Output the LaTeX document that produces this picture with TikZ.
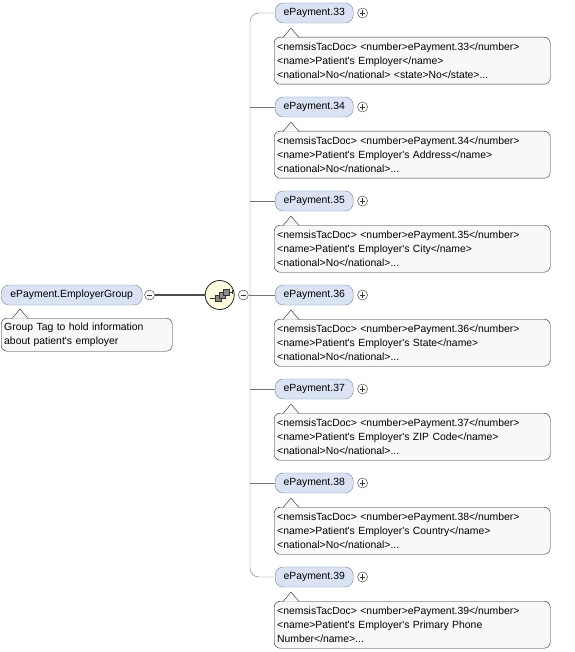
\documentclass[tikz,border=0pt]{standalone}
\usepackage{fontspec}
\setmainfont{Liberation Sans}
\usepackage{xcolor}
\usetikzlibrary{positioning}
\definecolor{elemfill}{HTML}{D9E3F4}
\definecolor{elemdraw}{HTML}{76869C}
\definecolor{docfill}{HTML}{F8F8F8}
\definecolor{seqfill}{HTML}{FFFBDF}

\begin{document}
\begin{tikzpicture}[x=1pt, y=-1pt,
    font=\fontsize{10.4}{14}\selectfont,
    elem/.style={draw=elemdraw, fill=elemfill, rounded corners=8pt, minimum height=20pt, inner xsep=4pt, inner ysep=0pt, anchor=west},
    doc/.style={draw=black!85, fill=docfill, rounded corners=6pt, align=left, inner xsep=3pt, inner ysep=2pt, anchor=north west},
    pointer/.style={fill=docfill, draw=black!85},
    toggle/.style={circle, draw=black!80, fill=white, minimum size=10pt, inner sep=0pt},
    minus/.style={toggle, path picture={\draw[line width=0.6pt] ([xshift=-2.6pt]path picture bounding box.center) -- ([xshift=2.6pt]path picture bounding box.center);}},
    plus/.style={toggle, path picture={\draw[line width=0.6pt] ([xshift=-2.6pt]path picture bounding box.center) -- ([xshift=2.6pt]path picture bounding box.center) ([yshift=-2.6pt]path picture bounding box.center) -- ([yshift=2.6pt]path picture bounding box.center);}},
    link/.style={draw=black!55},
]
    \useasboundingbox (0,0) rectangle (574,652);

    % group element and its sequence
    \node[elem, minimum width=141pt] (grp) at (1,295) {ePayment.EmployerGroup};
    \node[minus, right=2pt of grp] (gm) {};
    \node[doc, text width=165pt, minimum height=33pt] (gd) at (1,318) {Group Tag to hold information\\about patient\textquotesingle s employer};
    \filldraw[pointer] ([shift={(11,0.6)}]gd.north west) -- ++(8,-9.6) -- ++(8,9.6);

    \node[circle, draw=black!85, line width=0.8pt, fill=seqfill, minimum size=29pt, inner sep=0pt, right=50pt of gm] (seq) {};
    \node[minus, right=3.5pt of seq] (sm) {};
    \coordinate (trunk) at (250,295);

    % sequence icon
    \draw[black!80] ([shift={(-10,3)}]seq.center) -- ++(6,0);
    \filldraw[fill=black!45, draw=black!80] ([shift={(-5,0)}]seq.center) rectangle ++(6,6);
    \filldraw[fill=black!45, draw=black!80] ([shift={(-1,-3)}]seq.center) rectangle ++(6,6);
    \filldraw[fill=black!45, draw=black!80] ([shift={(3,-6)}]seq.center) rectangle ++(6,6);
    \draw[black!80] ([shift={(9,-3)}]seq.center) -- ++(3,0) ++(0,-2) -- ++(0,4);

    % child elements
    \foreach \n/\y in {33/13, 34/107, 35/201, 36/295, 37/389, 38/483, 39/577} {
        \node[elem, minimum width=78pt] (p\n) at (275,\y) {ePayment.\n};
        \node[plus, right=4pt of p\n] (x\n) {};
    }

    % documentation
    \node[doc, text width=270pt, minimum height=47pt] (d33) at (274,37) {<nemsisTacDoc> <number>ePayment.33</number>\\<name>Patient\textquotesingle s Employer</name>\\<national>No</national> <state>No</state>...};
    \node[doc, text width=270pt, minimum height=47pt] (d34) at (274,131) {<nemsisTacDoc> <number>ePayment.34</number>\\<name>Patient\textquotesingle s Employer\textquotesingle s Address</name>\\<national>No</national>...};
    \node[doc, text width=270pt, minimum height=47pt] (d35) at (274,225) {<nemsisTacDoc> <number>ePayment.35</number>\\<name>Patient\textquotesingle s Employer\textquotesingle s City</name>\\<national>No</national>...};
    \node[doc, text width=270pt, minimum height=47pt] (d36) at (274,319) {<nemsisTacDoc> <number>ePayment.36</number>\\<name>Patient\textquotesingle s Employer\textquotesingle s State</name>\\<national>No</national>...};
    \node[doc, text width=270pt, minimum height=47pt] (d37) at (274,413) {<nemsisTacDoc> <number>ePayment.37</number>\\<name>Patient\textquotesingle s Employer\textquotesingle s ZIP Code</name>\\<national>No</national>...};
    \node[doc, text width=270pt, minimum height=47pt] (d38) at (274,507) {<nemsisTacDoc> <number>ePayment.38</number>\\<name>Patient\textquotesingle s Employer\textquotesingle s Country</name>\\<national>No</national>...};
    \node[doc, text width=270pt, minimum height=47pt] (d39) at (274,601) {<nemsisTacDoc> <number>ePayment.39</number>\\<name>Patient\textquotesingle s Employer\textquotesingle s Primary Phone\\Number</name>...};
    \foreach \n in {33,...,39}
        \filldraw[pointer] ([shift={(9,0.6)}]d\n.north west) -- ++(8,-9.6) -- ++(8,9.6);

    % connectors
    \draw[black!70, line width=1.8pt] (gm) -- (seq);
    \draw[link] (sm) -- (trunk);
    \draw[link, rounded corners=9pt] (p33.west) -| (trunk) |- (p39.west);
    \foreach \n in {34,...,38}
        \draw[link] (p\n.west) -- (p\n.west -| trunk);
\end{tikzpicture}
\end{document}
